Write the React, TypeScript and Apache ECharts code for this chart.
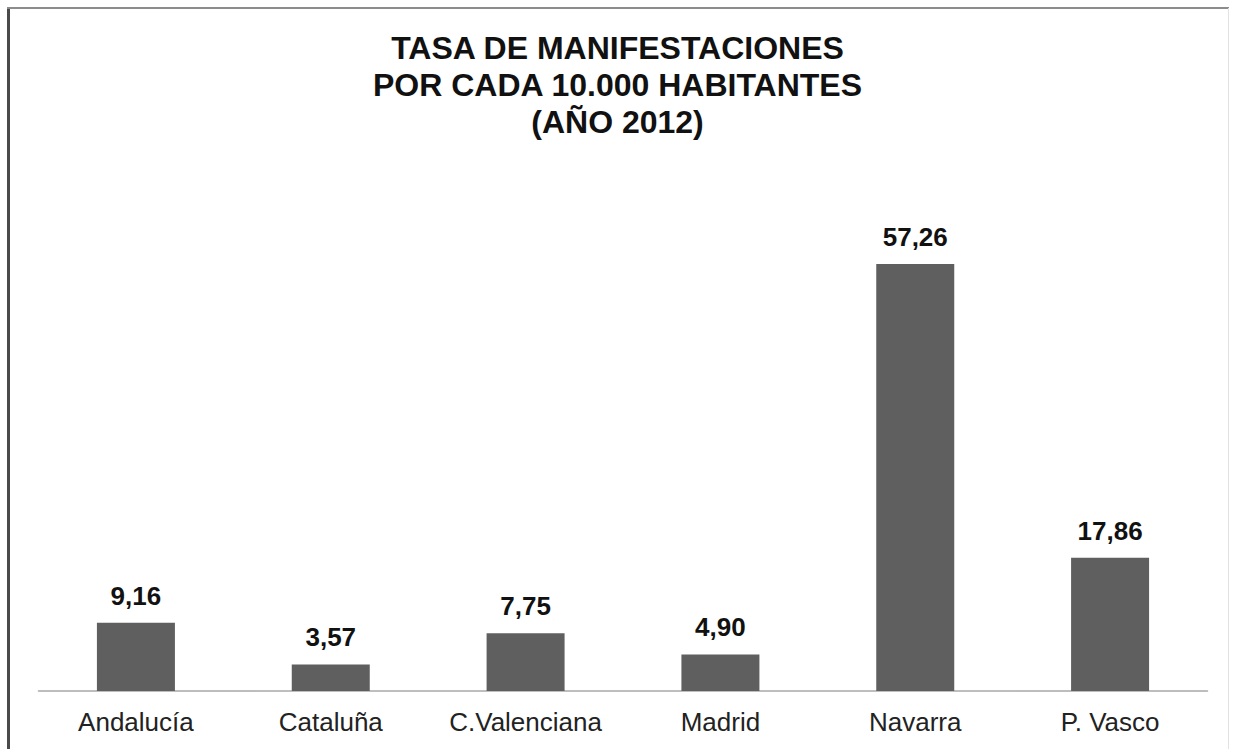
import React, { useEffect, useRef } from "react";
import * as echarts from "echarts";

const categories = ["Andalucía", "Cataluña", "C.Valenciana", "Madrid", "Navarra", "P. Vasco"];
const values = [9.16, 3.57, 7.75, 4.9, 57.26, 17.86];
const titleText = "TASA DE MANIFESTACIONES\nPOR CADA 10.000 HABITANTES\n(AÑO 2012)";

const FONT = "'Liberation Sans', Arial, sans-serif";

export default function App() {
  const ref = useRef<HTMLDivElement>(null);
  useEffect(() => {
    if (!ref.current) return;
    const chart = echarts.init(ref.current, undefined, { renderer: "svg" });
    chart.setOption({
      animation: false,
      backgroundColor: "#ffffff",
      title: {
        text: titleText,
        left: "center",
        top: 29,
        padding: 0,
        textStyle: {
          fontFamily: FONT,
          fontSize: 32,
          fontWeight: "bold",
          color: "#111111",
          lineHeight: 37,
        },
      },
      graphic: [
        { type: "line", shape: { x1: 8.5, y1: 7, x2: 8.5, y2: 749 }, style: { stroke: "#4a4a4a", lineWidth: 3 } },
        { type: "line", shape: { x1: 7, y1: 8, x2: 1229, y2: 8 }, style: { stroke: "#8c8c8c", lineWidth: 2 } },
        { type: "line", shape: { x1: 1228.5, y1: 8, x2: 1228.5, y2: 749 }, style: { stroke: "#e2e2e2", lineWidth: 1 } },
      ],
      grid: { left: 38.5, right: 27.5, bottom: 58, top: 243.6 },
      xAxis: {
        type: "category",
        data: categories,
        axisLine: { show: true, lineStyle: { color: "#a8a8a8", width: 1.5 } },
        axisTick: { show: false },
        axisLabel: {
          margin: 18,
          fontFamily: FONT,
          fontSize: 26,
          color: "#222222",
          interval: 0,
        },
      },
      yAxis: {
        type: "value",
        min: 0,
        max: 60,
        show: false,
        splitLine: { show: false },
      },
      series: [
        {
          type: "bar",
          data: values,
          barWidth: 78,
          itemStyle: { color: "#5f5f5f" },
          label: {
            show: true,
            position: "top",
            distance: 14,
            fontFamily: FONT,
            fontSize: 26,
            fontWeight: "bold",
            color: "#111111",
            formatter: (p: any) => Number(p.value).toFixed(2).replace(".", ","),
          },
        },
      ],
    });
    return () => chart.dispose();
  }, []);
  return (
    <div
      ref={ref}
      style={{ position: "absolute", left: 0, top: 0, width: 1235, height: 749 }}
    />
  );
}
